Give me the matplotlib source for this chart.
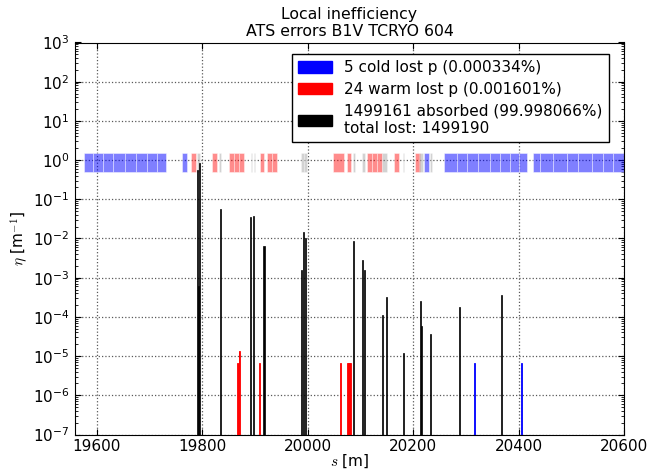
"""Local inefficiency plot for ATS errors B1V TCRYO 604."""

import matplotlib

matplotlib.use("Agg")
import matplotlib.pyplot as plt
import numpy as np
from matplotlib.patches import Patch
from matplotlib.ticker import LogLocator, NullFormatter

# losses per element: s position [m] and local inefficiency [1/m]
absorbed_s = [19790.4, 19794.2, 19792.3, 19834.0, 19891.8, 19896.6, 19917.4,
              19987.6, 19991.4, 19995.2, 20086.8, 20103.3, 20108.0, 20141.8,
              20149.4, 20181.0, 20213.9, 20215.8, 20232.8, 20288.2, 20367.5]
absorbed_eta = [0.55, 0.85, 6e-4, 0.056, 0.035, 0.038, 0.0064,
                0.0016, 0.0145, 0.010, 0.0086, 0.0028, 0.0016, 1.1e-4,
                3.2e-4, 1.2e-5, 2.6e-4, 6e-5, 3.6e-5, 1.8e-4, 3.7e-4]

warm_s = [19866.5, 19868.0, 19870.0, 19871.5, 19908.5, 20062.9,
          20075.0, 20077.0, 20079.0, 20081.0]
warm_eta = [6.67e-6, 6.67e-6, 1.33e-5, 1.33e-5, 6.67e-6, 6.67e-6,
            6.67e-6, 6.67e-6, 6.67e-6, 6.67e-6]

cold_s = [20316.3, 20405.4]
cold_eta = [6.67e-6, 6.67e-6]

# aperture model: element start / end [m]
cold_start = [19576, 19593.7, 19612.7, 19631.6, 19653.8, 19674, 19695, 19714,
              19761.4, 20220.9,
              20258.8, 20282.9, 20301.8, 20323.9, 20346, 20365, 20384, 20401.6,
              20428.2, 20440.9, 20466, 20491.5, 20513.5, 20538.9, 20561, 20579.9]
cold_end = [19593.7, 19612.7, 19631.6, 19653.8, 19674, 19695, 19714, 19731.6,
            19770.8, 20230.4,
            20282.9, 20301.8, 20323.9, 20346, 20365, 20384, 20401.6, 20415.6,
            20440.9, 20466, 20491.5, 20513.5, 20538.9, 20561, 20579.9, 20600]

warm_start = [19779, 19818.3, 19851, 19860, 19870, 19909.9, 19922.6, 19932,
              20048.9, 20074.3, 20112.2, 20122, 20131, 20164, 20203.8]
warm_end = [19788.5, 19827.7, 19860, 19870, 19879.5, 19918, 19932, 19942.7,
            20069.7, 20082.4, 20122, 20131, 20140.7, 20173.5, 20213.3]

coll_start = [19790.4, 19832.7, 19892, 19897.9, 19987, 19994, 20086.8, 20102.7,
              20141.8, 20180.5, 20212, 20232]
coll_end = [19796, 19836.5, 19894, 19901, 19994, 19999.6, 20090, 20109,
            20150.1, 20182.5, 20219.6, 20235]

labels = [
    "5 cold lost p (0.000334%)",
    "24 warm lost p (0.001601%)",
    "1499161 absorbed (99.998066%)\ntotal lost: 1499190",
]

plt.rcParams["mathtext.fontset"] = "cm"
plt.rcParams["font.size"] = 11

fig = plt.figure(figsize=(6.54, 4.70), dpi=100)
ax = fig.add_axes([75 / 654, 1 - 434.5 / 470, 549 / 654, 392 / 470])
ax.set_yscale("log")


def band(starts, ends, color, alpha):
    widths = [e - s for s, e in zip(starts, ends)]
    ax.bar(starts, [1.0] * len(starts), width=widths, bottom=0.5, align="edge",
           color=color, alpha=alpha, edgecolor="white", linewidth=0.6, zorder=2)


band(cold_start, cold_end, "blue", 0.5)
band(warm_start, warm_end, "red", 0.45)
band(coll_start, coll_end, "0.5", 0.35)

ax.bar(absorbed_s, absorbed_eta, width=2.0, bottom=1e-7, color="black",
       edgecolor="black", linewidth=0.5, zorder=3)
ax.bar(warm_s, warm_eta, width=1.5, bottom=1e-7, color="red",
       edgecolor="red", linewidth=0.6, zorder=3)
ax.bar(cold_s, cold_eta, width=1.0, bottom=1e-7, color="blue",
       edgecolor="blue", linewidth=0.6, zorder=3)

ax.set_xlim(19559, 20600)
ax.set_ylim(1e-7, 1e3)
ax.set_xticks([19600, 19800, 20000, 20200, 20400, 20600])
ax.yaxis.set_major_locator(LogLocator(base=10, numticks=20))
ax.yaxis.set_minor_locator(LogLocator(base=10, subs=np.arange(2, 10), numticks=200))
ax.yaxis.set_minor_formatter(NullFormatter())
ax.grid(True, which="major", linestyle=":", color="0.35", linewidth=0.9)
ax.tick_params(which="both", direction="in", top=True, right=True)
ax.tick_params(which="major", length=4.5, pad=4)
ax.tick_params(axis="x", which="major", pad=3)
ax.tick_params(which="minor", length=2.5)

ax.set_xlabel("$s$ [m]", labelpad=-1)
ax.set_ylabel(r"$\eta$ [m$^{-1}$]", labelpad=2)
ax.set_title("Local inefficiency\nATS errors B1V TCRYO 604", fontsize=11.3,
             linespacing=1.1, pad=5)

handles = [Patch(facecolor="blue", edgecolor="blue"),
           Patch(facecolor="red", edgecolor="red"),
           Patch(facecolor="black", edgecolor="black")]
leg = ax.legend(handles, labels, loc="upper right",
                bbox_to_anchor=(0.972, 0.971), borderaxespad=0,
                fancybox=False, framealpha=1, edgecolor="black",
                handlelength=2.2, handleheight=0.8, labelspacing=0.45)
leg.get_frame().set_linewidth(1.0)

fig.savefig("out.png", dpi=100)
